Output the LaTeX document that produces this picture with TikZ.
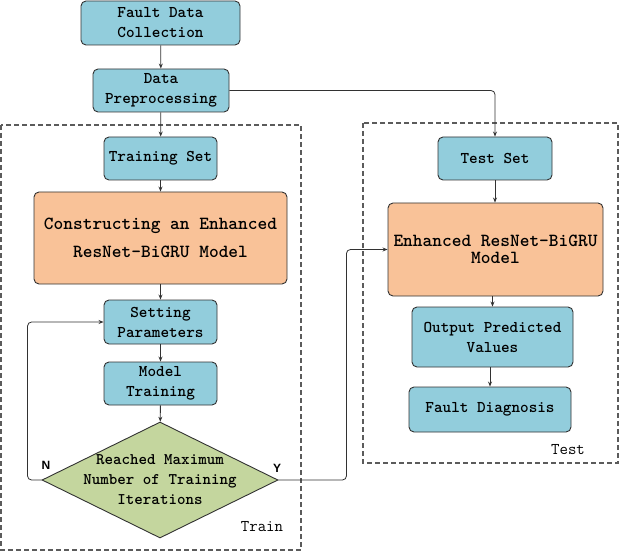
\documentclass[tikz,border=0pt]{standalone}
\usepackage{fontspec}
\newfontfamily\yesnofont{Liberation Sans}
\usetikzlibrary{shapes.geometric,arrows.meta}

\definecolor{boxblue}{RGB}{146,205,220}
\definecolor{boxorange}{RGB}{249,194,152}
\definecolor{boxgreen}{RGB}{196,214,158}
\definecolor{edgegray}{RGB}{50,50,50}

\tikzset{
  stepbox/.style={draw=edgegray, line width=0.9pt, fill=boxblue, rounded corners=5pt,
    align=center, inner sep=0pt, font=\ttfamily\bfseries\fontsize{16.4}{20}\selectfont},
  modelbox/.style={stepbox, fill=boxorange, font=\ttfamily\bfseries\fontsize{18.5}{28}\selectfont},
  decision/.style={diamond, draw=edgegray, line width=0.9pt, fill=boxgreen, inner sep=0pt},
  groupbox/.style={draw=edgegray!80, line width=1.2pt, dash pattern=on 5pt off 3pt},
  arr/.style={draw=edgegray, line width=0.8pt, -{Stealth[length=5pt,width=4pt]}},
}

\begin{document}
\begin{tikzpicture}[x=1pt, y=-1pt]
  \useasboundingbox (0,0) rectangle (620,553);

  % dashed groups
  \draw[groupbox] (1,125) rectangle (301,550);
  \draw[groupbox] (363,123) rectangle (618,463);

  % top steps
  \node[stepbox, minimum width=159pt, minimum height=44pt] (collect) at (160.5,23) {Fault Data\\Collection};
  \node[stepbox, minimum width=136pt, minimum height=43pt] (prep) at (161,90.5) {Data\\Preprocessing};

  % train side
  \node[stepbox, minimum width=113pt, minimum height=43pt] (trainset) at (160.5,158.5) {Training Set};
  \node[modelbox, minimum width=253pt, minimum height=92pt] (construct) at (160.5,238) {Constructing an Enhanced\\ResNet-BiGRU Model};
  \node[stepbox, minimum width=113pt, minimum height=44pt] (params) at (160.5,322) {Setting\\Parameters};
  \node[stepbox, minimum width=113pt, minimum height=43pt] (training) at (160.5,383.5) {Model\\Training};
  \node[decision, minimum width=236pt, minimum height=116pt] (check) at (160,480) {};
  \node[align=center, font=\ttfamily\bfseries\fontsize{16.2}{20}\selectfont] (checktext) at (160,480)
    {Reached Maximum\\Number of Training\\Iterations};

  % test side
  \node[stepbox, minimum width=114pt, minimum height=43pt] (testset) at (495,158.5) {Test Set};
  \node[modelbox, minimum width=215pt, minimum height=93pt, font=\ttfamily\bfseries\fontsize{18.5}{17}\selectfont] (enhanced) at (495.5,249.5) {Enhanced ResNet-BiGRU\\Model};
  \node[stepbox, minimum width=161pt, minimum height=60pt] (predict) at (492.5,337) {Output Predicted\\Values};
  \node[stepbox, minimum width=162pt, minimum height=45pt] (diagnose) at (490,409.5) {Fault Diagnosis};

  % labels
  \node[font=\ttfamily\fontsize{16.4}{18}\selectfont] (trainlabel) at (262,527) {Train};
  \node[font=\ttfamily\fontsize{16.4}{18}\selectfont] (testlabel) at (568,450) {Test};
  \node[font=\yesnofont\bfseries\fontsize{12}{14}\selectfont] (nolabel) at (46,465) {N};
  \node[font=\yesnofont\bfseries\fontsize{12}{14}\selectfont] (yeslabel) at (277,468) {Y};

  % connectors
  \draw[arr] (collect) -- (prep);
  \draw[arr] (prep) -- (trainset);
  \draw[arr] (trainset) -- (construct);
  \draw[arr] (construct) -- (params);
  \draw[arr] (params) -- (training);
  \draw[arr] (training) -- (check);
  \draw[arr, rounded corners=4pt] (check.west) -- ++(-14,0) |- (params.west);
  \draw[arr, rounded corners=4pt] (check.east) -- ++(68,0) |- (enhanced.west);
  \draw[arr, rounded corners=4pt] (prep.east) -| (testset.north);
  \draw[arr] (testset) -- (testset |- enhanced.north);
  \draw[arr] (enhanced.south -| predict.north) -- (predict.north);
  \draw[arr] (predict.south -| diagnose.north) -- (diagnose.north);
\end{tikzpicture}
\end{document}
